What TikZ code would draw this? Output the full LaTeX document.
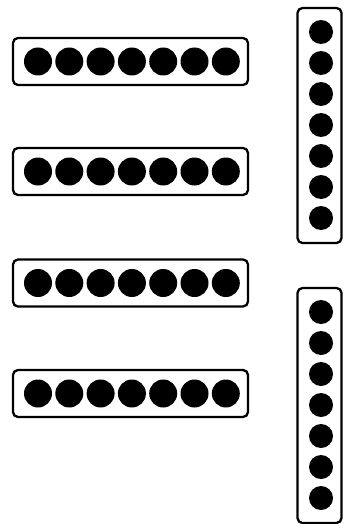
\documentclass[tikz,border=0pt]{standalone}
\begin{document}
\begin{tikzpicture}[x=1pt,y=-1pt,
  panel/.style={draw=black,line width=2.3pt,rounded corners=5pt,rectangle,inner sep=0pt},
  dot/.style={circle,fill=black,draw=none,minimum size=28pt,inner sep=0pt},
  vdot/.style={circle,fill=black,draw=none,minimum size=24pt,inner sep=0pt}]
\useasboundingbox (0,0) rectangle (343,524);
% horizontal panels
\foreach \r/\cy in {1/61.5,2/171.5,3/283,4/393.5}{
  \node[panel,minimum width=235pt,minimum height=47pt] (h\r) at (130.5,\cy) {};
  \foreach \i in {0,...,6}{
    \node[dot] (h\r d\i) at (38+31.3*\i,\cy) {};
  }
}
% vertical panels
\node[panel,minimum width=44pt,minimum height=235pt] (v1) at (319.5,125.5) {};
\foreach \i in {0,...,6}{
  \node[vdot] (v1d\i) at (321,32+31*\i) {};
}
\node[panel,minimum width=44pt,minimum height=235pt] (v2) at (319.5,405.5) {};
\foreach \i in {0,...,6}{
  \node[vdot] (v2d\i) at (321,312+31*\i) {};
}
\end{tikzpicture}
\end{document}
